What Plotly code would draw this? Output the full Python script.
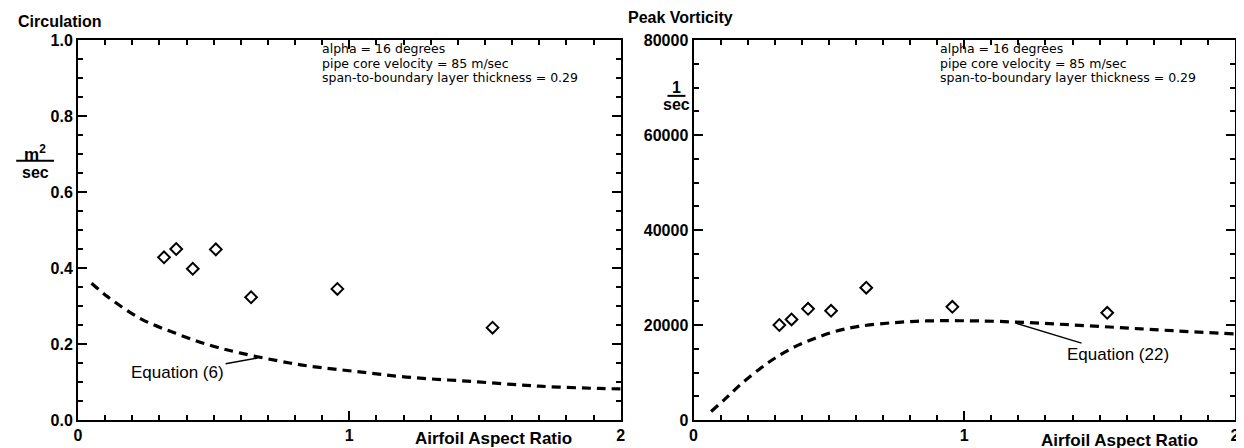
import plotly.graph_objects as go

# ---- data ----
aspect_ratio = [0.317, 0.362, 0.423, 0.508, 0.638, 0.956, 1.528]
circulation = [0.428, 0.450, 0.398, 0.449, 0.323, 0.345, 0.243]
peak_vorticity = [20000, 21170, 23400, 22990, 27860, 23820, 22570]

eq6_x = [0.05, 0.11, 0.23, 0.36, 0.48, 0.60, 0.78, 0.86, 1.02, 1.21, 1.46, 1.70, 1.92, 2.0]
eq6_y = [0.360, 0.324, 0.267, 0.228, 0.198, 0.176, 0.150, 0.141, 0.128, 0.113, 0.101, 0.089, 0.083, 0.082]

eq22_x = [0.065, 0.12, 0.18, 0.25, 0.30, 0.37, 0.44, 0.52, 0.61, 0.74, 0.86, 0.98, 1.13, 1.34, 1.56, 1.77, 2.0]
eq22_y = [1800, 4600, 7800, 11000, 13000, 15300, 17000, 18600, 19700, 20500, 20850, 20900, 20750, 20200, 19500, 18800, 18100]

x_tickvals = [0, 1, 2]
x_ticktext = ["0", "1", "2"]
circ_tickvals = [0.0, 0.2, 0.4, 0.6, 0.8, 1.0]
circ_ticktext = ["0.0", "0.2", "0.4", "0.6", "0.8", "1.0"]
vort_tickvals = [0, 20000, 40000, 60000, 80000]
vort_ticktext = ["0", "20000", "40000", "60000", "80000"]

conditions = ["alpha = 16 degrees", "pipe core velocity = 85 m/sec",
              "span-to-boundary layer thickness = 0.29"]

FONT = "Liberation Sans, Arial, sans-serif"
BOLD = dict(family=FONT, size=16, color="black", weight="bold")

fig = go.Figure()
fig.add_trace(go.Scatter(x=eq6_x, y=eq6_y, mode="lines",
                         line=dict(color="black", width=3.2, dash="9px,6px", shape="spline"),
                         xaxis="x", yaxis="y", showlegend=False, hoverinfo="skip"))
fig.add_trace(go.Scatter(x=aspect_ratio, y=circulation, mode="markers",
                         marker=dict(symbol="diamond-open", size=9, color="black", line=dict(width=2, color="black")),
                         xaxis="x", yaxis="y", showlegend=False))
fig.add_trace(go.Scatter(x=eq22_x, y=eq22_y, mode="lines",
                         line=dict(color="black", width=3.2, dash="9px,6px", shape="spline"),
                         xaxis="x2", yaxis="y2", showlegend=False, hoverinfo="skip"))
fig.add_trace(go.Scatter(x=aspect_ratio, y=peak_vorticity, mode="markers",
                         marker=dict(symbol="diamond-open", size=9, color="black", line=dict(width=2, color="black")),
                         xaxis="x2", yaxis="y2", showlegend=False))


def common():
    return dict(showline=True, linewidth=2, linecolor="black", mirror="allticks",
                ticks="inside", ticklen=9, tickwidth=2, tickcolor="black",
                showgrid=False, zeroline=False, tickfont=BOLD)


def xaxis(domain, anchor):
    d = common()
    d.update(domain=domain, anchor=anchor, range=[0, 2], tickmode="array",
             tickvals=x_tickvals, ticktext=x_ticktext,
             minor=dict(tickmode="linear", tick0=0, dtick=0.1, ticks="inside", ticklen=5,
                        tickwidth=2, tickcolor="black", showgrid=False))
    return d


def yaxis(anchor, rng, tv, tt, mdt):
    d = common()
    d.update(anchor=anchor, domain=[0, 1], range=rng, tickmode="array", tickvals=tv, ticktext=tt,
             minor=dict(tickmode="linear", tick0=0, dtick=mdt, ticks="inside", ticklen=5,
                        tickwidth=2, tickcolor="black", showgrid=False))
    return d


fig.update_layout(
    width=1244, height=448,
    margin=dict(l=70, r=14, t=32, b=32),
    paper_bgcolor="white", plot_bgcolor="white",
    font=dict(family=FONT, color="black"),
    xaxis=xaxis([0, 0.469], "y"),
    yaxis=yaxis("x", [0, 1], circ_tickvals, circ_ticktext, 0.05),
    xaxis2=xaxis([0.532, 1], "y2"),
    yaxis2=yaxis("x2", [0, 80000], vort_tickvals, vort_ticktext, 5000),
)

ann = []
# titles
ann.append(dict(text="<b>Circulation</b>", x=-0.0534, y=1.0495, xref="paper", yref="paper",
                xanchor="left", yanchor="middle", showarrow=False, font=dict(family=FONT, size=16)))
ann.append(dict(text="<b>Peak Vorticity</b>", x=0.474, y=1.058, xref="paper", yref="paper",
                xanchor="left", yanchor="middle", showarrow=False, font=dict(family=FONT, size=16)))
# units
ann.append(dict(text="<b>m<sup>2</sup></b>", x=-0.0371, y=0.703, xref="paper", yref="paper",
                xanchor="center", yanchor="middle", showarrow=False, font=dict(family=FONT, size=17)))
ann.append(dict(text="<b>sec</b>", x=-0.0371, y=0.651, xref="paper", yref="paper",
                xanchor="center", yanchor="middle", showarrow=False, font=dict(family=FONT, size=16)))
ann.append(dict(text="<b>1</b>", x=0.517, y=0.874, xref="paper", yref="paper",
                xanchor="center", yanchor="middle", showarrow=False, font=dict(family=FONT, size=16)))
ann.append(dict(text="<b>sec</b>", x=0.517, y=0.829, xref="paper", yref="paper",
                xanchor="center", yanchor="middle", showarrow=False, font=dict(family=FONT, size=16)))
# axis titles
ann.append(dict(text="<b>Airfoil Aspect Ratio</b>", x=0.3595, y=-0.049, xref="paper", yref="paper",
                xanchor="center", yanchor="middle", showarrow=False, font=dict(family=FONT, size=17)))
ann.append(dict(text="<b>Airfoil Aspect Ratio</b>", x=0.90, y=-0.055, xref="paper", yref="paper",
                xanchor="center", yanchor="middle", showarrow=False, font=dict(family=FONT, size=17)))
# conditions (one text block per panel, compact line spacing like the original)
cond_text = "<br>".join('<span style="font-size:12.5px">' + c + '</span>' for c in conditions)
for xx in (0.2095, 0.743):
    ann.append(dict(text=cond_text, x=xx, y=(416 - 55) / 384, xref="paper", yref="paper", xanchor="left",
                    yanchor="middle", align="left", showarrow=False,
                    font=dict(family="DejaVu Sans, sans-serif", size=11.2, color="black")))
# equation labels
ann.append(dict(text="Equation (6)", x=0.662, y=0.163, xref="x", yref="y", ax=-80, ay=14,
                showarrow=True, arrowhead=0, arrowwidth=1.5, arrowcolor="black",
                font=dict(family=FONT, size=17, color="black")))
ann.append(dict(text="Equation (22)", x=1.19, y=20400, xref="x2", yref="y2", ax=102, ay=31,
                showarrow=True, arrowhead=0, arrowwidth=1.5, arrowcolor="black",
                font=dict(family=FONT, size=17, color="black")))
fig.update_layout(annotations=ann)

# fraction bars of the unit labels
fig.add_shape(type="line", xref="paper", yref="paper", x0=-0.0534, x1=-0.0207, y0=0.682, y1=0.682,
              line=dict(color="black", width=2))
fig.add_shape(type="line", xref="paper", yref="paper", x0=0.5095, x1=0.525, y0=0.853, y1=0.853,
              line=dict(color="black", width=2))

fig.write_html("out.html")
